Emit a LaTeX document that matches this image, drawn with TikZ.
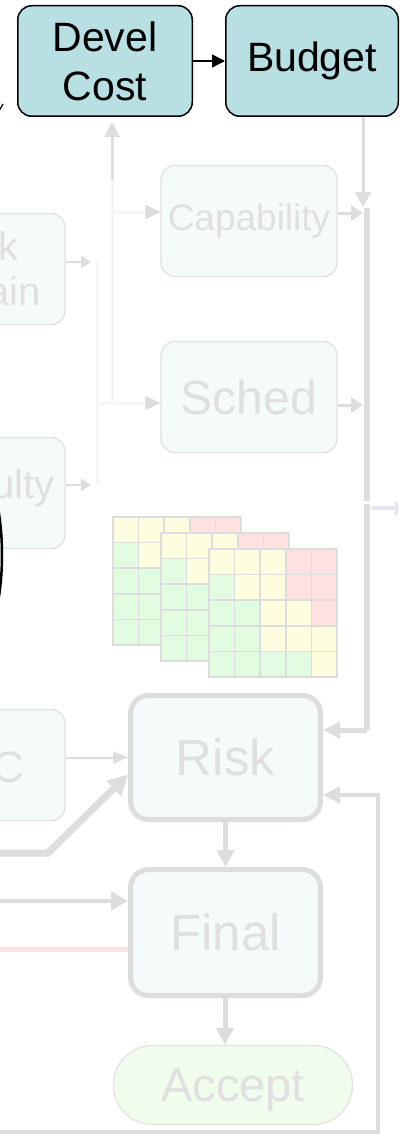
\documentclass[tikz,border=0pt]{standalone}
\usepackage{fontspec}
\setmainfont{Liberation Sans}
\usetikzlibrary{arrows.meta,calc}

\definecolor{tealfill}{HTML}{B8E0E3}
\definecolor{fadefill}{HTML}{F5FAFA}
\definecolor{fadeline}{HTML}{E2E2E2}
\definecolor{fadetext}{HTML}{E0E0E0}
\definecolor{greyline}{HTML}{DDDDDD}
\definecolor{faintline}{HTML}{F5F5F5}
\definecolor{pinkline}{HTML}{FFE1E1}
\definecolor{lavender}{HTML}{E5E5F5}
\definecolor{acceptfill}{HTML}{F0FCEC}
\definecolor{hy}{HTML}{FFFDE0}
\definecolor{hr}{HTML}{FFE1E1}
\definecolor{hg}{HTML}{E1FCE0}

\begin{document}
\begin{tikzpicture}[x=1pt,y=-1pt,
  tealbox/.style={draw=black, line width=1.5pt, fill=tealfill, rounded corners=14pt,
    minimum width=174.5pt, minimum height=110.5pt, inner sep=0pt, align=center,
    font=\fontsize{41}{49}\selectfont},
  fadebox/.style={draw=fadeline, line width=1.3pt, fill=fadefill, rounded corners=14pt,
    minimum width=176pt, minimum height=111pt, inner sep=0pt, align=center,
    text=fadetext, font=\fontsize{40}{45}\selectfont},
  boldbox/.style={draw=greyline, line width=5pt, fill=fadefill, rounded corners=18pt,
    minimum width=190pt, inner sep=0pt, text=fadetext,
    font=\fontsize{51}{60}\selectfont},
  fadelabel/.style={text=fadetext, inner sep=0pt, font=\fontsize{40}{45}\selectfont},
  link/.style={draw=greyline, line width=3pt},
  faintlink/.style={draw=faintline, line width=3pt},
  cell/.style={draw=greyline, line width=1.5pt},
]
\useasboundingbox (0,0) rectangle (399,1134);
\fill[white] (0,0) rectangle (399,1134);
\clip (0,0) rectangle (399,1134);

% ---- boxes of the left column (running off the edge)
\node[fadebox, minimum width=186pt] (wd) at (-28,269) {Work\\Domain};
\node[fadebox, minimum width=179pt] (diff) at (-24.5,493) {};
\node[fadelabel, anchor=base east] (difflbl) at (55,498) {Difficulty};
\node[fadebox, minimum width=179pt] (cbox) at (-24.5,765) {};
\node[fadelabel, anchor=base east, font=\fontsize{44}{50}\selectfont] (clbl) at (24,782) {C};

% black outline entering from the left
\draw[line width=2.5pt] (-100,555) ellipse [x radius=102pt, y radius=171pt];
\draw[line width=1.2pt] (-1,111) -- (3,104);

% ---- top row
\node[tealbox] (devel) at (105,61) {Devel\\Cost};
\node[tealbox, minimum width=172.5pt] (budget) at (312,61) {Budget};
\draw[line width=1.5pt, -{Triangle[length=13pt,width=13pt]}] (devel) -- (budget);

% ---- middle column
\node[fadebox, font=\fontsize{37}{44}\selectfont] (cap) at (249,221) {Capability};
\node[fadebox, font=\fontsize{48}{56}\selectfont] (sched) at (249,397) {Sched};

% faint feeder lines
\coordinate (ja) at (97,262);
\coordinate (jb) at (97,485);
\coordinate (jc) at (112,403);
\coordinate (jd) at (112,180);
\draw[link, line width=2pt, -{Triangle[length=10pt,width=12pt]}] ([yshift=7pt]wd.east) -- ([xshift=-6pt]ja);
\draw[link, line width=2pt, -{Triangle[length=10pt,width=12pt]}] ([yshift=8pt]diff.east) -- ([xshift=-6pt]jb);
\draw[faintlink] (ja) -- (jb);
\draw[faintlink, -{Triangle[length=15pt,width=14pt,color=greyline]}] (ja |- jc) -- (sched.west |- jc);
\draw[faintlink] (jc) -- (jd);
\draw[faintlink, -{Triangle[length=15pt,width=14pt,color=greyline]}] (112,212) -- (cap.west |- 0,212);
\draw[link, -{Triangle[length=15pt,width=15pt]}, shorten >=5pt] (jd) -- (devel.south -| jd);

% ---- right trunk
\coordinate (bd) at (363,207);
\coordinate (tr1) at (367,208);
\coordinate (tr2) at (367,730);
\draw[link, -{Triangle[length=15pt,width=16pt]}] (budget.south -| bd) -- (bd);
\draw[link, -{Triangle[length=12pt,width=15pt]}] (cap.east |- 0,213) -- (363,213);
\draw[link, -{Triangle[length=12pt,width=15pt]}] (sched.east |- 0,405) -- (363,405);
\draw[draw=greyline, line width=6.5pt] (tr1) -- (367,501);

% ---- risk matrices
\foreach \gx/\gy in {113/517, 161/533, 209/549} {
  \foreach \hc [count=\i from 0] in {hy,hy,hy,hr,hr, hg,hy,hy,hr,hr, hg,hg,hy,hy,hr, hg,hg,hy,hy,hy, hg,hg,hg,hg,hy} {
    \pgfmathtruncatemacro\cc{mod(\i,5)}
    \pgfmathtruncatemacro\rr{\i/5}
    \filldraw[cell, fill=\hc] (\gx+\cc*25.6, \gy+\rr*25.6) rectangle ++(25.6,25.6);
  }
}

% ---- lower column
\node[boldbox, minimum height=124pt] (risk) at (225.5,757.5) {Risk};
\node[boldbox, minimum height=126pt] (final) at (225.5,932.5) {Final};
\node[draw=fadeline, line width=1.2pt, fill=acceptfill, rounded corners=39pt,
      minimum width=239pt, minimum height=79pt, inner sep=0pt, text=fadetext,
      text depth=0pt, font=\fontsize{47}{55}\selectfont] (accept) at (233,1085) {Accept};

\draw[draw=greyline, line width=6.5pt] (367,504) -- (tr2);
\draw[link, line width=5pt, -{Triangle[length=17pt,width=16pt]}] (tr2) -- (risk.east |- tr2);
\draw[draw=lavender, line width=4pt, -{Bar[width=13pt,line width=3pt]}] (371,508) -- (398,508);

\draw[link, line width=5pt, -{Triangle[length=17pt,width=17pt]}] (risk) -- (final);
\draw[link, line width=5pt, -{Triangle[length=17pt,width=17pt]}] (final.south -| 225,0) -- (accept.north -| 225,0);

% feedback loop along the bottom
\coordinate (fb1) at (378,1132);
\coordinate (fb2) at (378,795);
\draw[link, line width=4.5pt, -{Triangle[length=17pt,width=16pt]}] (-5,1132) -- (fb1) -- (fb2) -- (risk.east |- fb2);

% inputs from the left
\draw[link, line width=2pt, -{Triangle[length=15pt,width=12pt]}] (cbox.east |- risk.west) -- (risk.west);
\draw[link, line width=7pt, -{Triangle[length=20pt,width=20pt]}] (-5,853) -- (48,853) -- ([yshift=-17pt]risk.west);
\draw[link, line width=4.5pt, -{Triangle[length=17pt,width=18pt]}] (-5,901) -- (final.west |- 0,901);
\draw[draw=pinkline, line width=5pt] (-5,949) -- (final.west |- 0,949);
\end{tikzpicture}
\end{document}
